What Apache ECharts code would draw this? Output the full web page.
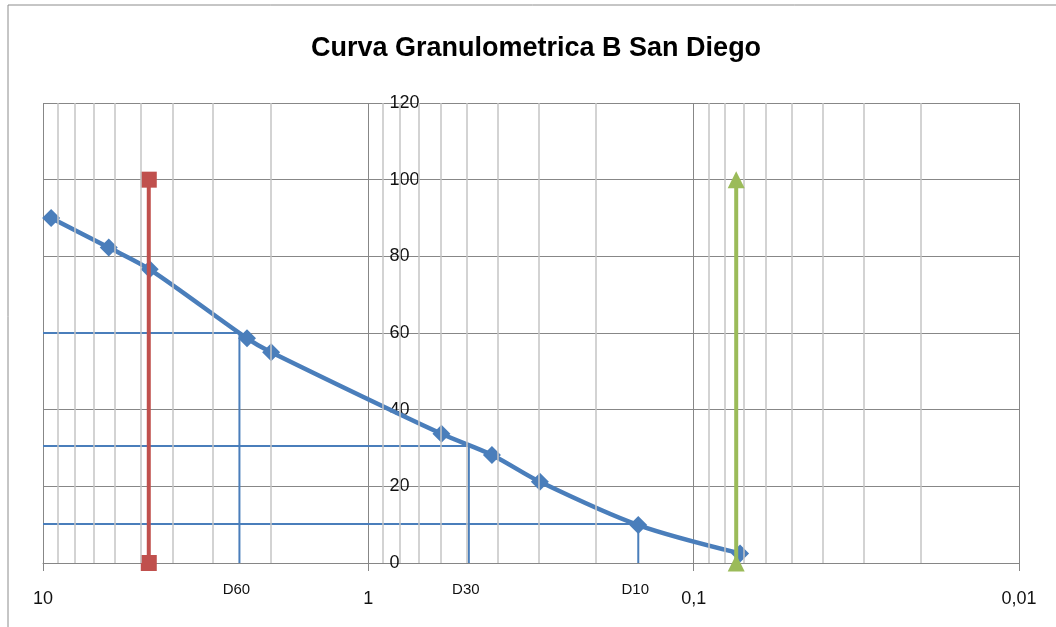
<!DOCTYPE html>
<html>
<head>
<meta charset="utf-8">
<script src="https://cdn.jsdelivr.net/npm/echarts@6/dist/echarts.min.js"></script>
<style>
    body { margin: 0; background: #fff; }
    #chartDiv { width: 1056px; height: 627px; }
</style>
</head>
<body>
<div id="chartDiv"></div>
<script>
// curva granulometrica: abertura (mm) vs % que pasa
let aberturas = [9.44, 6.28, 4.7, 2.36, 1.99, 0.596, 0.417, 0.297, 0.148, 0.072];
let pasa = [90, 82.3, 76.6, 58.6, 55, 33.7, 28.2, 21.2, 9.9, 2.5];

let rojoX = [4.73, 4.73];
let rojoY = [100, 0];
let verdeX = [0.074, 0.074];
let verdeY = [100, 0];

let dNombres = ["D60", "D30", "D10"];
let dNivel = [60, 30.5, 10.2];
let dAbertura = [2.49, 0.491, 0.148];

let decadas = [0.01, 0.1, 1];
let pasosMenores = [2, 3, 4, 5, 6, 7, 8, 9];

let fuente = "Liberation Sans, Arial, sans-serif";

function pares(xs, ys) {
    let out = [];
    for (let i = 0; i < xs.length; i++) {
        out.push([xs[i], ys[i]]);
    }
    return out;
}

let lineasMenores = [];
decadas.forEach(function (d) {
    pasosMenores.forEach(function (p) {
        lineasMenores.push({ xAxis: +(d * p).toPrecision(6) });
    });
});

let seriesD = dNombres.map(function (nombre, i) {
    return {
        name: nombre,
        type: "line",
        z: 2,
        symbol: "circle",
        symbolSize: 0,
        showSymbol: true,
        lineStyle: { color: "#4a7ebb", width: 2 },
        itemStyle: { color: "#4a7ebb" },
        label: { show: false },
        data: [
            [10, dNivel[i]],
            [dAbertura[i], dNivel[i]],
            {
                value: [dAbertura[i], 0],
                label: {
                    show: true,
                    formatter: nombre,
                    position: "bottom",
                    distance: 19,
                    offset: [-3, 0],
                    color: "#111",
                    fontSize: 15,
                    fontFamily: fuente,
                },
            },
        ],
    };
});

let chart = echarts.init(document.getElementById("chartDiv"));
chart.setOption({
    animation: false,
    backgroundColor: "#fff",
    title: {
        text: "Curva Granulometrica B San Diego",
        left: 311,
        top: 35,
        padding: 0,
        textStyle: {
            color: "#000",
            fontSize: 27,
            fontWeight: "bold",
            fontFamily: fuente,
        },
    },
    graphic: [
        {
            type: "rect",
            shape: { x: 8, y: 5, width: 2000, height: 2000 },
            style: { fill: "none", stroke: "#8c8c8c", lineWidth: 1 },
            silent: true,
        },
    ],
    grid: { left: 43, right: 37, top: 103, bottom: 64, containLabel: false },
    xAxis: {
        type: "log",
        logBase: 10,
        min: 0.01,
        max: 10,
        inverse: true,
        splitNumber: 3,
        axisLine: { show: true, onZero: false, lineStyle: { color: "#868686", width: 1 } },
        axisTick: { show: true, length: 8, lineStyle: { color: "#868686" } },
        axisLabel: {
            margin: 27,
            color: "#111",
            fontSize: 18,
            fontFamily: fuente,
            formatter: function (v) {
                return String(+v.toPrecision(6)).replace(".", ",");
            },
        },
        splitLine: { show: true, lineStyle: { color: "#878787", width: 1 } },
    },
    yAxis: {
        type: "value",
        min: 0,
        max: 120,
        interval: 20,
        position: "left",
        offset: -325.5,
        axisLine: { show: false, onZero: false },
        axisTick: { show: false },
        axisLabel: {
            inside: true,
            margin: 21,
            color: "#111",
            fontSize: 18,
            fontFamily: fuente,
        },
        splitLine: { show: true, lineStyle: { color: "#878787", width: 1 } },
    },
    series: [
        {
            name: "rejilla",
            type: "line",
            z: 1,
            data: [],
            silent: true,
            markLine: {
                silent: true,
                symbol: "none",
                label: { show: false },
                animation: false,
                lineStyle: { color: "#c4c4c4", type: "solid", width: 1.5 },
                data: lineasMenores,
            },
        },
    ]
        .concat(seriesD)
        .concat([
            {
                name: "Curva",
                type: "line",
                z: 3,
                smooth: 0.3,
                symbol: "diamond",
                symbolSize: 18,
                lineStyle: { color: "#4a7ebb", width: 4.5 },
                itemStyle: { color: "#4a7ebb" },
                data: pares(aberturas, pasa),
            },
            {
                name: "Limite grueso",
                type: "line",
                z: 4,
                symbol: "rect",
                symbolSize: 16,
                lineStyle: { color: "#c0504d", width: 4 },
                itemStyle: { color: "#c0504d" },
                data: pares(rojoX, rojoY),
            },
            {
                name: "Limite fino",
                type: "line",
                z: 5,
                symbol: "triangle",
                symbolSize: 17,
                lineStyle: { color: "#9bbb59", width: 4 },
                itemStyle: { color: "#9bbb59" },
                data: pares(verdeX, verdeY),
            },
        ]),
});
window.addEventListener("resize", function () {
    chart.resize();
});
</script>
</body>
</html>
